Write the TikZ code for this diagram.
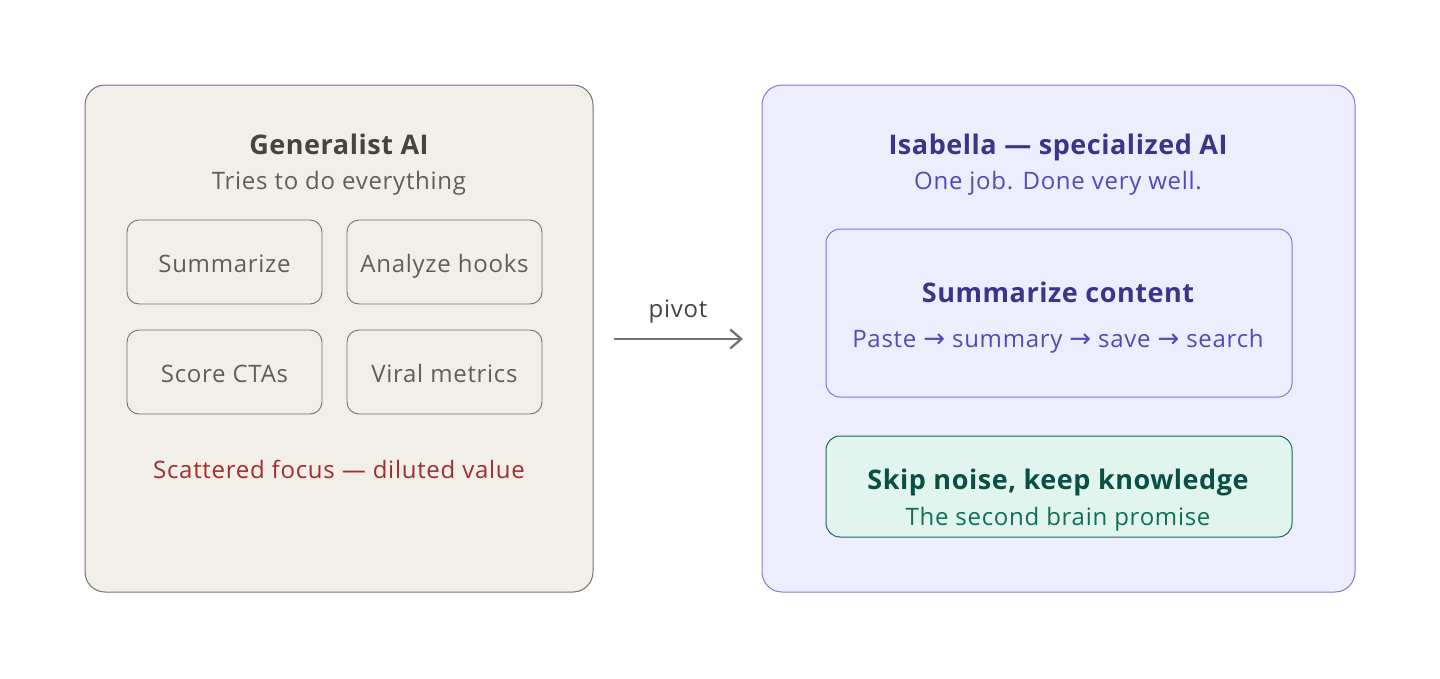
\documentclass[tikz,border=0pt]{standalone}
\usepackage{fontspec}
\setmainfont{Open Sans}
\newfontfamily\titlefont[LetterSpace=2]{Open Sans}
\newfontfamily\subfont[LetterSpace=3]{Open Sans}
\newfontfamily\arrowfont{DejaVu Sans}
\usetikzlibrary{arrows.meta}
\definecolor{lfill}{HTML}{F1EFE8}
\definecolor{lstroke}{HTML}{73726C}
\definecolor{ldark}{HTML}{444441}
\definecolor{lmid}{HTML}{5F5E5A}
\definecolor{lred}{HTML}{A32D2D}
\definecolor{pfill}{HTML}{EEEDFE}
\definecolor{pstroke}{HTML}{7F77DD}
\definecolor{pdark}{HTML}{3C3489}
\definecolor{pmid}{HTML}{534AB7}
\definecolor{gfill}{HTML}{E1F5EE}
\definecolor{gstroke}{HTML}{0F6E56}
\definecolor{gdark}{HTML}{085041}
\definecolor{gmid}{HTML}{0F6E56}
\newcommand{\fsz}[1]{\fontsize{#1}{#1}\selectfont}
\newcommand{\arr}{{\arrowfont\fontsize{26}{26}\selectfont →}}
\tikzset{
  bigbox/.style={rounded corners=20pt, line width=1pt},
  chip/.style={draw=lstroke, rounded corners=12pt, line width=0.9pt},
  title/.style={font=\titlefont\fsz{27}\bfseries, anchor=base, inner sep=0pt},
  sub/.style={font=\subfont\fsz{24}, anchor=base, inner sep=0pt},
  chiplabel/.style={font=\subfont\fsz{24}, text=lmid, anchor=base, inner sep=0pt},
}
\begin{document}
\begin{tikzpicture}[x=1pt,y=-1pt]
\useasboundingbox (0,0) rectangle (1440,678);
% left panel
\draw[bigbox, fill=lfill, draw=lstroke] (85,85) rectangle (593,592);
\node[title, text=ldark] (lt) at (339,154.5) {Generalist AI};
\node[sub, text=lmid] (ls) at (339,189.5) {Tries to do everything};
\draw[chip] (127,220) rectangle (322,304);
\node[chiplabel] (c1) at (224.5,272) {Summarize};
\draw[chip] (347,220) rectangle (542,304);
\node[chiplabel] (c2) at (444.5,272) {Analyze hooks};
\draw[chip] (127,330) rectangle (322,414);
\node[chiplabel] (c3) at (224.5,382) {Score CTAs};
\draw[chip] (347,330) rectangle (542,414);
\node[chiplabel] (c4) at (444.5,382) {Viral metrics};
\node[sub, text=lred] (lr) at (339,478.5) {Scattered focus — diluted value};
% arrow
\coordinate (a1) at (614,339);
\coordinate (a2) at (743,339);
\draw[draw=lstroke, line width=2.3pt, -{Straight Barb[length=11pt,width=19pt,line width=2.3pt]}] (a1) -- (a2);
\node[sub, text=ldark] (pv) at (678,317.5) {pivot};
% right panel
\draw[bigbox, fill=pfill, draw=pstroke] (762,85) rectangle (1355,592);
\node[title, text=pdark] (rt) at (1058,154.5) {Isabella — specialized AI};
\node[sub, text=pmid] (rs) at (1058,189.5) {One job. Done very well.};
\draw[rounded corners=14pt, line width=1pt, draw=pstroke] (826,229) rectangle (1292,397);
\node[title, text=pdark] (sc) at (1058,302.5) {Summarize content};
\node[sub, text=pmid] (sp) at (1058,347.5) {Paste \arr{} summary \arr{} save \arr{} search};
\draw[rounded corners=14pt, line width=1pt, draw=gstroke, fill=gfill] (826,436) rectangle (1292,537);
\node[title, text=gdark] (gk) at (1058,489.5) {Skip noise, keep knowledge};
\node[sub, text=gmid] (gp) at (1058,525) {The second brain promise};
\end{tikzpicture}
\end{document}
